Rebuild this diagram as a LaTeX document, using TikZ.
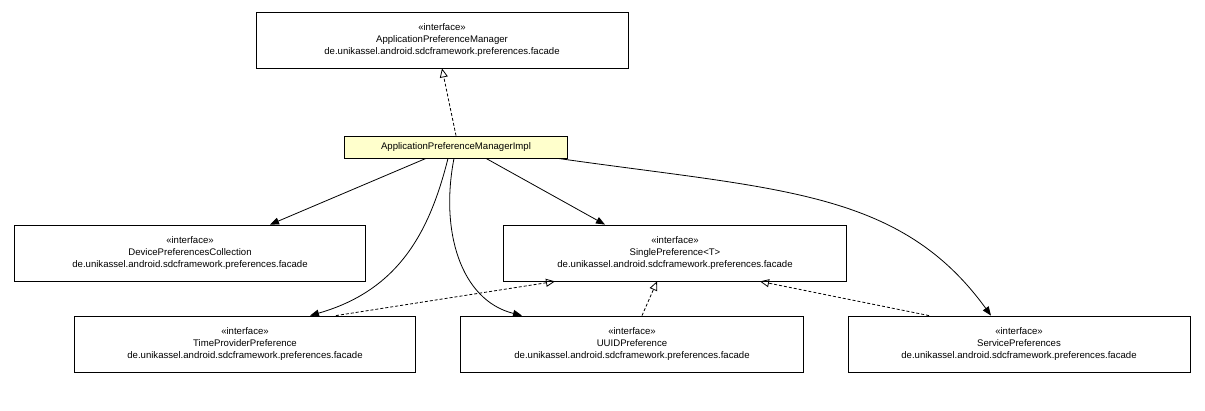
\documentclass[tikz,border=0pt]{standalone}
\usepackage{fontspec}
\setmainfont{Liberation Sans}
\usetikzlibrary{arrows.meta,positioning}
\definecolor{implfill}{HTML}{FFFFCC}
\tikzset{
  iface/.style={draw, thick, fill=white, minimum width=#1, minimum height=56pt, align=center, inner sep=1pt},
  iface/.default=343pt,
  cls/.style={draw, thick, fill=implfill, minimum width=223pt, minimum height=22pt},
  uses/.style={-{Triangle[length=9pt,width=7pt]}, thick},
  impl/.style={densely dashed, thick, -{Triangle[open,length=9pt,width=8pt]}}
}
\begin{document}
\begin{tikzpicture}[x=1pt, y=-1pt, font=\fontsize{9.6}{12}\selectfont]
  \useasboundingbox (0,0) rectangle (1205,411);
  \node[iface=372pt] (apm) at (442,40) {«interface»\\ApplicationPreferenceManager\\de.unikassel.android.sdcframework.preferences.facade};
  \node[cls] (impl) at (456,147) {ApplicationPreferenceManagerImpl};
  \node[iface=351pt] (dpc) at (190,253) {«interface»\\DevicePreferencesCollection\\de.unikassel.android.sdcframework.preferences.facade};
  \node[iface] (sp) at (675,253) {«interface»\\SinglePreference<T>\\de.unikassel.android.sdcframework.preferences.facade};
  \node[iface=341pt] (tpp) at (245,344) {«interface»\\TimeProviderPreference\\de.unikassel.android.sdcframework.preferences.facade};
  \node[iface] (uuid) at (632,344) {«interface»\\UUIDPreference\\de.unikassel.android.sdcframework.preferences.facade};
  \node[iface=342pt] (servp) at (1019,344) {«interface»\\ServicePreferences\\de.unikassel.android.sdcframework.preferences.facade};
  % realisations
  \draw[impl] (impl.north) -- (apm.south);
  \draw[impl] (tpp.north east) ++(-80,0) -- ([xshift=-120pt]sp.south);
  \draw[impl] ([xshift=10pt]uuid.north) -- ([xshift=-18pt]sp.south);
  \draw[impl] ([xshift=-90pt]servp.north) -- ([xshift=85pt]sp.south);
  % associations
  \draw[uses] ([xshift=-30pt]impl.south) -- ([xshift=80pt]dpc.north);
  \draw[uses] ([xshift=30pt]impl.south) -- ([xshift=-70pt]sp.north);
  \draw[uses] ([xshift=-8pt]impl.south) .. controls (430,230) and (400,290) .. ([xshift=65pt]tpp.north);
  \draw[uses] ([xshift=-2pt]impl.south) .. controls (440,230) and (460,300) .. ([xshift=-110pt]uuid.north);
  \draw[uses] (impl.south east) ++(-10,0) .. controls (780,190) and (900,190) .. ([xshift=-28pt]servp.north);
\end{tikzpicture}
\end{document}
